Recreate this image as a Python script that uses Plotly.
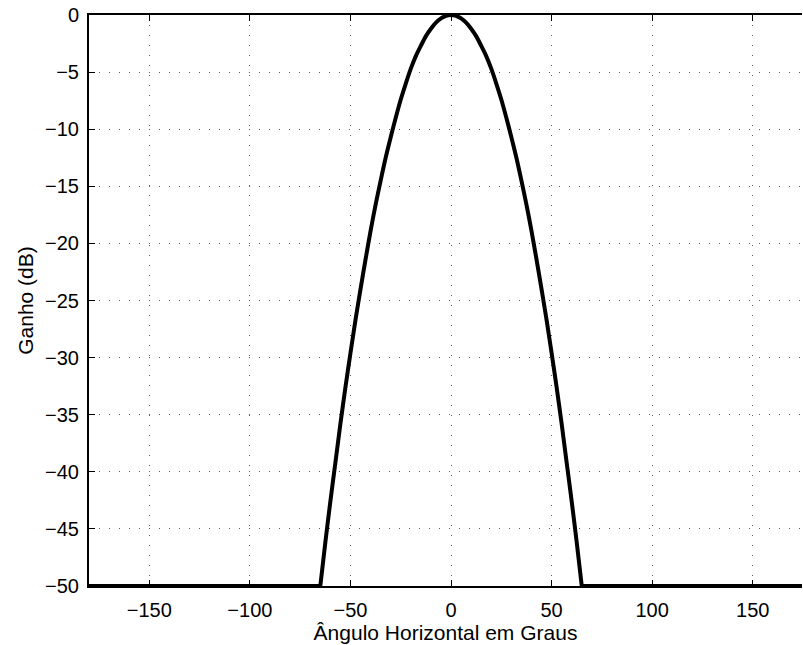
import plotly.graph_objects as go

# Horizontal antenna pattern: gain (dB) versus azimuth angle (degrees)
angles = [-180, -65, -62.5, -60, -57.5, -55, -52.5, -50, -47.5, -45, -42.5, -40,
          -37.5, -35, -32.5, -30, -27.5, -25, -22.5, -20, -17.5, -15, -12.5, -10,
          -7.5, -5, -2.5, 0, 2.5, 5, 7.5, 10, 12.5, 15, 17.5, 20, 22.5, 25, 27.5,
          30, 32.5, 35, 37.5, 40, 42.5, 45, 47.5, 50, 52.5, 55, 57.5, 60, 62.5,
          65, 180]
gains = [-50.0, -50.0, -46.2, -42.6, -39.2, -35.8, -32.6, -29.6, -26.7, -24.0,
         -21.4, -18.9, -16.6, -14.5, -12.5, -10.7, -9.0, -7.4, -6.0, -4.7, -3.6,
         -2.7, -1.85, -1.2, -0.67, -0.3, -0.07, 0.0, -0.07, -0.3, -0.67, -1.2,
         -1.85, -2.7, -3.6, -4.7, -6.0, -7.4, -9.0, -10.7, -12.5, -14.5, -16.6,
         -18.9, -21.4, -24.0, -26.7, -29.6, -32.6, -35.8, -39.2, -42.6, -46.2,
         -50.0, -50.0]

x_ticks = [-150, -100, -50, 0, 50, 100, 150]
y_ticks = [0, -5, -10, -15, -20, -25, -30, -35, -40, -45, -50]

FONT = "Liberation Sans, Arial, Helvetica, sans-serif"
LINE = dict(color="black", width=4)

fig = go.Figure()
# main lobe drawn as a smooth curve, floor segments as straight lines
fig.add_trace(go.Scatter(
    x=angles[1:-1], y=gains[1:-1], mode="lines",
    line=dict(**LINE, shape="spline", smoothing=0.8),
    showlegend=False, hoverinfo="skip",
))
for seg in (slice(0, 2), slice(-2, None)):
    fig.add_trace(go.Scatter(
        x=angles[seg], y=gains[seg], mode="lines", line=LINE,
        showlegend=False, hoverinfo="skip",
    ))

axis_common = dict(
    showline=True, linecolor="black", linewidth=2,
    ticks="inside", ticklen=6, tickwidth=1, tickcolor="black",
    showgrid=True, gridcolor="#5e5e5e", gridwidth=1, griddash="1px,9px",
    zeroline=False,
    tickfont=dict(family=FONT, size=20, color="black"),
)

fig.update_layout(
    width=803, height=645,
    margin=dict(l=89, r=1, t=15, b=59),
    paper_bgcolor="white", plot_bgcolor="white",
    font=dict(family=FONT, color="black"),
    xaxis=dict(
        **axis_common,
        range=[-180, 174.5], tickvals=x_ticks, mirror="ticks",
        ticklabelstandoff=5,
        title=dict(text="Ângulo Horizontal em Graus",
                   font=dict(family=FONT, size=21, color="black"),
                   standoff=1),
    ),
    yaxis=dict(
        **axis_common,
        range=[-50, 0], tickvals=y_ticks, mirror=False,
        ticklabelstandoff=4,
        title=dict(text="Ganho (dB)",
                   font=dict(family=FONT, size=21, color="black"),
                   standoff=6),
    ),
)

fig.write_html("out.html")
